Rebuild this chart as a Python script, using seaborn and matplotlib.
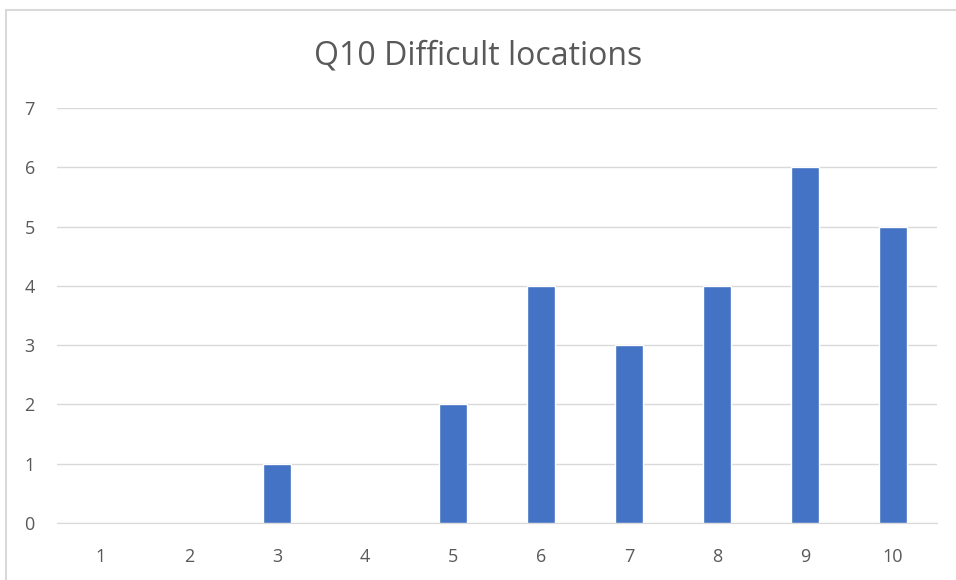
import matplotlib
matplotlib.use('Agg')
import matplotlib.pyplot as plt
from matplotlib.lines import Line2D
import seaborn as sns
import pandas as pd

categories = ['1', '2', '3', '4', '5', '6', '7', '8', '9', '10']
counts = [0, 0, 1, 0, 2, 4, 3, 4, 6, 5]

df = pd.DataFrame({'location': categories, 'count': counts})

sns.set_style("white")
plt.rcParams['font.family'] = ['Open Sans', 'DejaVu Sans']

fig = plt.figure(figsize=(9.56, 5.8), dpi=100)
ax = fig.add_axes([0.0596, 0.0983, 0.9205, 0.7155])

sns.barplot(data=df, x='location', y='count', color='#4472C4', width=0.31,
            saturation=1, ax=ax, zorder=3)

ax.set_ylim(0, 7)
ax.set_yticks(range(0, 8))
ax.grid(axis='y', color='#D9D9D9', linewidth=1, zorder=0)
ax.set_axisbelow(True)
for side in ['top', 'right', 'left']:
    ax.spines[side].set_visible(False)
ax.spines['bottom'].set_color('#D9D9D9')
ax.tick_params(axis='both', length=0, labelsize=13, labelcolor='#595959')
ax.tick_params(axis='x', pad=18)
ax.tick_params(axis='y', pad=16)
ax.set_xlabel('')
ax.set_ylabel('')
fig.text(0.5, 0.903, 'Q10 Difficult locations', ha='center', va='center',
         fontsize=23, color='#595959')

# light frame edge, left and top only (chart is cropped on the other sides)
x0 = 5.5 / 956
y0 = 1 - 9.5 / 580
fig.lines.append(Line2D([x0, x0], [0, y0], transform=fig.transFigure,
                        color='#D9D9D9', linewidth=1.5))
fig.lines.append(Line2D([x0, 1], [y0, y0], transform=fig.transFigure,
                        color='#D9D9D9', linewidth=1.5))

fig.savefig('out.png', dpi=100)
